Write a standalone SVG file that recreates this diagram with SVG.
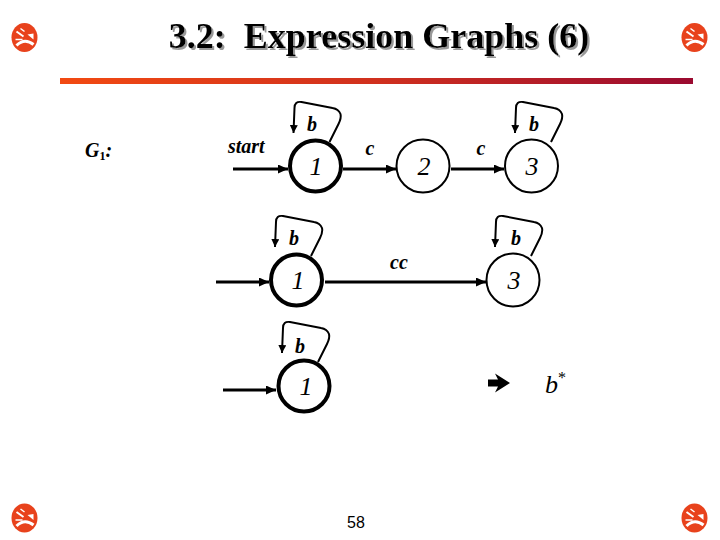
<svg xmlns="http://www.w3.org/2000/svg" width="720" height="540" viewBox="0 0 720 540">
<style>
.bi{font-family:"Liberation Serif","Times New Roman",serif;font-style:italic;font-weight:bold;fill:#000}
.it{font-family:"Liberation Serif","Times New Roman",serif;font-style:italic;fill:#000}
.thick{fill:#fff;stroke:#000;stroke-width:4}
.thin{fill:#fff;stroke:#000;stroke-width:2}
.edge{stroke:#000;stroke-width:3;fill:none}
.loop{stroke:#000;stroke-width:2;fill:none}
</style>
<defs>
<linearGradient id="bar" x1="0" y1="0" x2="1" y2="0">
<stop offset="0" stop-color="#F24A12"/>
<stop offset="0.5" stop-color="#D0301E"/>
<stop offset="1" stop-color="#9A0A30"/>
</linearGradient>
<filter id="shadow" x="-5%" y="-20%" width="110%" height="140%">
<feOffset in="SourceAlpha" dx="2" dy="2" result="o"/>
<feFlood flood-color="#999"/>
<feComposite in2="o" operator="in" result="s"/>
<feMerge><feMergeNode in="s"/><feMergeNode in="SourceGraphic"/></feMerge>
</filter>
<marker id="ah" markerUnits="userSpaceOnUse" markerWidth="10" markerHeight="9" refX="10" refY="4.5" orient="auto">
<path d="M0,0 L10,4.5 L0,9 Z" fill="#000"/>
</marker>
<marker id="ahs" markerUnits="userSpaceOnUse" markerWidth="8" markerHeight="8" refX="8" refY="4" orient="auto">
<path d="M0,0 L8,4 L0,8 Z" fill="#000"/>
</marker>
<g id="icon">
<ellipse cx="0" cy="0" rx="13" ry="14.5" fill="#E8421C"/>
<path d="M-8,-6 L-1,-1" stroke="#fff" stroke-width="2"/>
<path d="M-4,-9 L0,-6" stroke="#fff" stroke-width="1.5"/>
<path d="M-9,2 L-2,2" stroke="#fff" stroke-width="1.5"/>
<path d="M-8,8 Q0,0 9,7" stroke="#fff" stroke-width="3" fill="none"/>
<path d="M3,-3 L9,-4 L9,2 Z" fill="#fff"/>
</g>
<path id="lp" d="M14,-24 L23,-42 Q26,-48 25,-52 Q23,-57 17,-58 L-14,-64 Q-21,-65 -21,-58 L-22,-33"/>
</defs>

<g id="decor">
<use href="#icon" x="24.5" y="37.5"/>
<use href="#icon" x="694.5" y="37.5"/>
<use href="#icon" x="24.5" y="518"/>
<use href="#icon" x="694.5" y="518"/>
<text x="379" y="48" text-anchor="middle" font-family="Liberation Serif,serif" font-weight="bold" font-size="36" fill="#000" filter="url(#shadow)" xml:space="preserve">3.2:  Expression Graphs (6)</text>
<rect x="60" y="78" width="633" height="6" fill="url(#bar)"/>
<text x="356" y="528" text-anchor="middle" font-family="Liberation Sans,Arial,sans-serif" font-size="16" fill="#000">58</text>
<text x="85" y="157" class="bi" font-size="20">G<tspan font-size="12" font-style="normal" dy="3">1</tspan><tspan dy="-3">:</tspan></text>
</g>

<g id="connectors">
<line class="edge" x1="233" y1="169" x2="288" y2="169" marker-end="url(#ah)"/>
<line class="edge" x1="343" y1="169" x2="396" y2="169" marker-end="url(#ah)"/>
<line class="edge" x1="451" y1="169" x2="504" y2="169" marker-end="url(#ah)"/>
<line class="edge" x1="216" y1="282" x2="269" y2="282" marker-end="url(#ah)"/>
<line class="edge" x1="325" y1="282" x2="486" y2="282" marker-end="url(#ah)"/>
<line class="edge" x1="223" y1="390" x2="276" y2="390" marker-end="url(#ah)"/>
<use href="#lp" class="loop" transform="translate(315.5,166)" marker-end="url(#ahs)"/>
<use href="#lp" class="loop" transform="translate(537,166)" marker-end="url(#ahs)"/>
<use href="#lp" class="loop" transform="translate(297,280)" marker-end="url(#ahs)"/>
<use href="#lp" class="loop" transform="translate(517,280)" marker-end="url(#ahs)"/>
<use href="#lp" class="loop" transform="translate(304,386)" marker-end="url(#ahs)"/>
</g>

<g id="labels">
<text x="228" y="153" class="bi" font-size="20">start</text>
<text x="312" y="131" class="bi" font-size="20" text-anchor="middle">b</text>
<text x="370" y="155" class="bi" font-size="20" text-anchor="middle">c</text>
<text x="481" y="155" class="bi" font-size="20" text-anchor="middle">c</text>
<text x="534" y="131" class="bi" font-size="20" text-anchor="middle">b</text>
<text x="294" y="245" class="bi" font-size="20" text-anchor="middle">b</text>
<text x="399" y="269" class="bi" font-size="20" text-anchor="middle">cc</text>
<text x="516" y="245" class="bi" font-size="20" text-anchor="middle">b</text>
<text x="300" y="353" class="bi" font-size="20" text-anchor="middle">b</text>
</g>

<g id="n1a"><circle class="thick" cx="315.5" cy="166" r="25.5"/><text x="316" y="175" class="it" font-size="26" text-anchor="middle">1</text></g>
<g id="n2a"><circle class="thin" cx="423" cy="166" r="26.5"/><text x="424" y="175" class="it" font-size="26" text-anchor="middle">2</text></g>
<g id="n3a"><circle class="thin" cx="531.5" cy="166" r="26.5"/><text x="532" y="175" class="it" font-size="26" text-anchor="middle">3</text></g>
<g id="n1b"><circle class="thick" cx="296.5" cy="280" r="25.5"/><text x="298" y="289" class="it" font-size="26" text-anchor="middle">1</text></g>
<g id="n3b"><circle class="thin" cx="513" cy="280" r="26.5"/><text x="514" y="289" class="it" font-size="26" text-anchor="middle">3</text></g>
<g id="n1c"><circle class="thick" cx="304" cy="386" r="25.5"/><text x="306" y="395" class="it" font-size="26" text-anchor="middle">1</text></g>

<g id="result">
<path d="M488,379.5 L498,379.5 L495,373.5 L510,383 L495,392.5 L498,386.5 L488,386.5 Z" fill="#000"/>
<text x="545" y="393" class="it" font-size="26">b<tspan font-size="16" dy="-10" font-style="normal">*</tspan></text>
</g>
</svg>
